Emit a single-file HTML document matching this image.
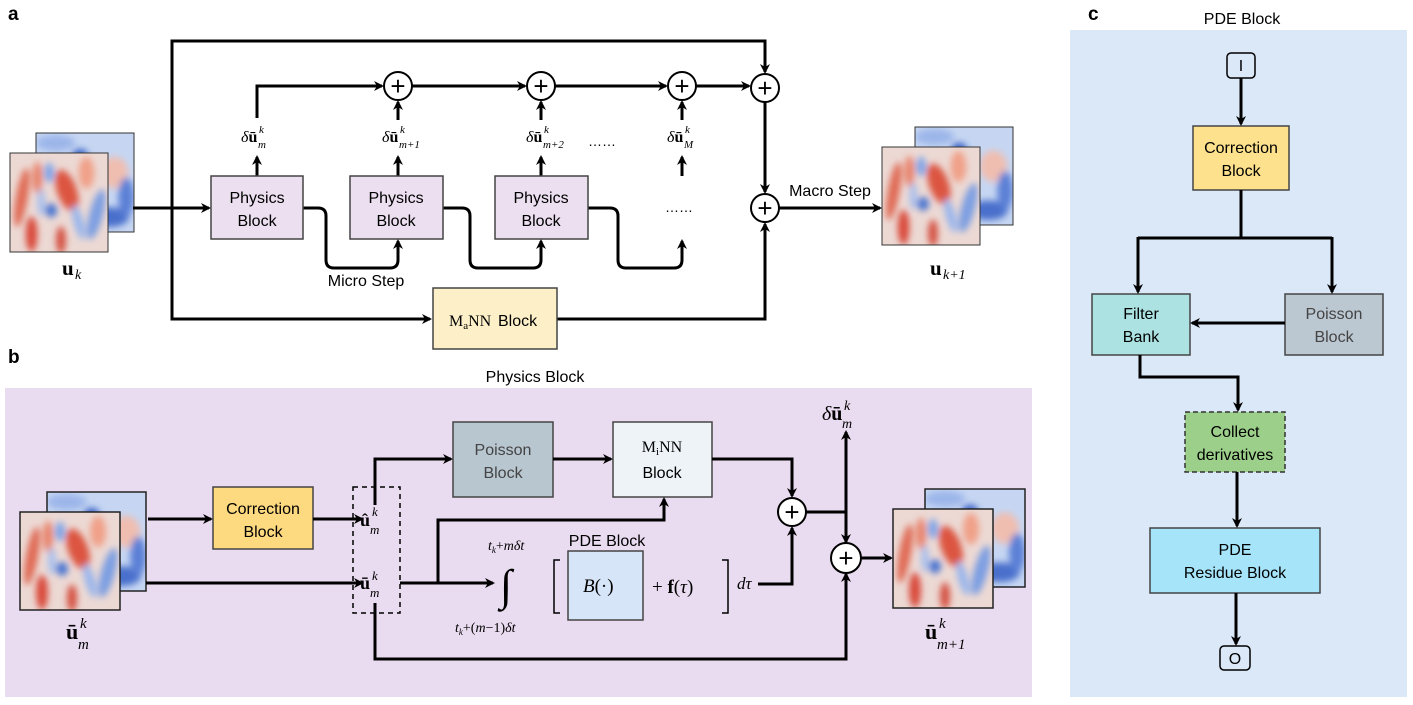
<!DOCTYPE html>
<html><head><meta charset="utf-8"><style>
html,body{margin:0;padding:0;background:#fff;}
svg{display:block;}
text{font-family:"Liberation Sans",sans-serif;}
text.m,.m text,.m tspan{font-family:"Liberation Serif",serif;}
</style></head><body>
<svg width="1413" height="705" viewBox="0 0 1413 705" xmlns="http://www.w3.org/2000/svg">
<defs>
<marker id="ar" markerWidth="10" markerHeight="10" refX="8" refY="5" orient="auto" markerUnits="userSpaceOnUse">
<path d="M0,0 L10,5 L0,10 L3,5 Z" fill="#000"/></marker>
<filter id="bl" x="-20%" y="-20%" width="140%" height="140%"><feGaussianBlur stdDeviation="3.5"/></filter>
<clipPath id="cp"><rect x="0" y="0" width="100" height="100"/></clipPath>
<g id="hmA" clip-path="url(#cp)">
<rect width="100" height="100" fill="#ecd9d4"/>
<g filter="url(#bl)">
<ellipse cx="12" cy="45" rx="6" ry="30" fill="#e06a55" transform="rotate(10 12 45)"/>
<ellipse cx="28" cy="25" rx="5" ry="16" fill="#e8826a"/>
<ellipse cx="40" cy="20" rx="5" ry="10" fill="#7ea4e8"/>
<ellipse cx="58" cy="38" rx="10" ry="22" fill="#dc5540" transform="rotate(-20 58 38)"/>
<ellipse cx="42" cy="58" rx="6" ry="7" fill="#4a74d0"/>
<ellipse cx="78" cy="20" rx="8" ry="16" fill="#f0a088"/>
<ellipse cx="88" cy="62" rx="7" ry="26" fill="#7d9fe2" transform="rotate(15 88 62)"/>
<ellipse cx="22" cy="82" rx="6" ry="18" fill="#d94a3a"/>
<ellipse cx="52" cy="88" rx="5" ry="14" fill="#d45040"/>
<ellipse cx="70" cy="70" rx="5" ry="18" fill="#9ab6ec" transform="rotate(-15 70 70)"/>
<ellipse cx="32" cy="50" rx="4" ry="14" fill="#a8c0ee"/>
</g></g>
<g id="hmB" clip-path="url(#cp)">
<rect width="100" height="100" fill="#c6d6f2"/>
<g filter="url(#bl)">
<ellipse cx="45" cy="22" rx="8" ry="6" fill="#3a64c8"/>
<ellipse cx="80" cy="40" rx="14" ry="16" fill="#f0beb0"/>
<ellipse cx="75" cy="85" rx="20" ry="10" fill="#4a70cc"/>
<ellipse cx="92" cy="65" rx="8" ry="20" fill="#5b80d6"/>
<ellipse cx="55" cy="55" rx="8" ry="14" fill="#e8c8c0"/>
<ellipse cx="20" cy="10" rx="20" ry="8" fill="#9cb6ea"/>
</g></g>
</defs>

<!-- Panel a -->
<text x="8" y="20" font-size="19" font-weight="bold">a</text>
<use href="#hmB" transform="translate(36,133) scale(0.98,0.99)"/>
<rect x="36" y="133" width="98" height="99" fill="none" stroke="#333" stroke-width="1"/>
<use href="#hmA" transform="translate(10,153) scale(0.98,0.99)"/>
<rect x="10" y="153" width="98" height="99" fill="none" stroke="#333" stroke-width="1"/>
<text x="62" y="275" class="m" font-size="21" font-weight="bold">u</text><text x="75" y="279" class="m" font-size="14" font-style="italic">k</text>
<use href="#hmB" transform="translate(915,127) scale(0.98,0.98)"/>
<rect x="915" y="127" width="98" height="98" fill="none" stroke="#333" stroke-width="1"/>
<use href="#hmA" transform="translate(882,147) scale(0.98,0.98)"/>
<rect x="882" y="147" width="98" height="98" fill="none" stroke="#333" stroke-width="1"/>
<text x="930" y="275" class="m" font-size="21" font-weight="bold">u</text><text x="943" y="279" class="m" font-size="14" font-style="italic">k+1</text>

<g stroke="#000" stroke-width="3" fill="none">
<line x1="133" y1="208" x2="209" y2="208" marker-end="url(#ar)"/>
<polyline points="172,208 172,41 765,41 765,72" marker-end="url(#ar)"/>
<polyline points="172,208 172,319 430,319" marker-end="url(#ar)"/>
<polyline points="557,319 765,319 765,224" marker-end="url(#ar)"/>
<polyline points="257,118 257,86 382,86" marker-end="url(#ar)"/>
<line x1="412" y1="86" x2="525" y2="86" marker-end="url(#ar)"/>
<line x1="555" y1="86" x2="666" y2="86" marker-end="url(#ar)"/>
<line x1="696" y1="86" x2="749" y2="86" marker-end="url(#ar)"/>
<line x1="765" y1="102" x2="765" y2="192" marker-end="url(#ar)"/>
<line x1="779" y1="208" x2="880" y2="208" marker-end="url(#ar)"/>
<line x1="257" y1="176" x2="257" y2="157" marker-end="url(#ar)"/>
<line x1="398" y1="176" x2="398" y2="157" marker-end="url(#ar)"/>
<line x1="541" y1="176" x2="541" y2="157" marker-end="url(#ar)"/>
<line x1="682" y1="176" x2="682" y2="157" marker-end="url(#ar)"/>
<line x1="398" y1="120" x2="398" y2="102" marker-end="url(#ar)"/>
<line x1="541" y1="120" x2="541" y2="102" marker-end="url(#ar)"/>
<line x1="682" y1="120" x2="682" y2="102" marker-end="url(#ar)"/>
<path d="M303,208 H318 Q326,208 326,216 V260 Q326,268 334,268 H390 Q398,268 398,260 V241" marker-end="url(#ar)"/>
<path d="M443,208 H462 Q470,208 470,216 V260 Q470,268 478,268 H533 Q541,268 541,260 V241" marker-end="url(#ar)"/>
<path d="M588,208 H610 Q618,208 618,216 V260 Q618,268 626,268 H674 Q682,268 682,260 V241" marker-end="url(#ar)"/>
</g>
<g stroke="#000" stroke-width="2" fill="#fff">
<circle cx="398" cy="86" r="14"/><circle cx="541" cy="86" r="14"/><circle cx="682" cy="86" r="14"/><circle cx="765" cy="88" r="14"/><circle cx="765" cy="208" r="14"/>
</g>
<g font-size="26" text-anchor="middle"><text x="398" y="95">+</text><text x="541" y="95">+</text><text x="682" y="95">+</text><text x="765" y="97">+</text><text x="765" y="217">+</text></g>
<g stroke="#444" stroke-width="1.5">
<rect x="211" y="176" width="92" height="63" fill="#ebdff0"/>
<rect x="350" y="176" width="93" height="63" fill="#ebdff0"/>
<rect x="495" y="176" width="93" height="63" fill="#ebdff0"/>
<rect x="433" y="288" width="124" height="61" fill="#fdf0c8"/>
</g>
<g font-size="16" text-anchor="middle">
<text x="257" y="203">Physics</text><text x="257" y="226">Block</text>
<text x="396" y="203">Physics</text><text x="396" y="226">Block</text>
<text x="541" y="203">Physics</text><text x="541" y="226">Block</text>
<text x="366" y="286">Micro Step</text>
<text x="830" y="196">Macro Step</text>
</g>
<text x="449" y="326" class="m" font-size="16">M<tspan font-size="11" dy="3">a</tspan><tspan dy="-3">NN</tspan></text>
<text x="498" y="326" font-size="16">Block</text>
<g class="m" font-size="16">
<text x="241" y="142"><tspan font-style="italic">δ</tspan><tspan font-weight="bold">ū</tspan></text><text x="258" y="148" font-size="11" font-style="italic">m</text><text x="259" y="133" font-size="11" font-style="italic">k</text>
<text x="382" y="142"><tspan font-style="italic">δ</tspan><tspan font-weight="bold">ū</tspan></text><text x="399" y="148" font-size="11" font-style="italic">m+1</text><text x="400" y="133" font-size="11" font-style="italic">k</text>
<text x="526" y="142"><tspan font-style="italic">δ</tspan><tspan font-weight="bold">ū</tspan></text><text x="543" y="148" font-size="11" font-style="italic">m+2</text><text x="544" y="133" font-size="11" font-style="italic">k</text>
<text x="667" y="142"><tspan font-style="italic">δ</tspan><tspan font-weight="bold">ū</tspan></text><text x="684" y="148" font-size="11" font-style="italic">M</text><text x="685" y="133" font-size="11" font-style="italic">k</text>
</g>
<text x="588" y="146" font-size="14">……</text>
<text x="665" y="212" font-size="14">……</text>

<!-- Panel b -->
<text x="8" y="363" font-size="19" font-weight="bold">b</text>
<text x="535" y="382" font-size="16" text-anchor="middle">Physics Block</text>
<rect x="5" y="388" width="1027" height="309" fill="#eadcf0"/>
<use href="#hmB" transform="translate(47,492) scale(0.99,0.99)"/>
<rect x="47" y="492" width="99" height="99" fill="none" stroke="#222" stroke-width="1.5"/>
<use href="#hmA" transform="translate(20,512) scale(1.0,0.98)"/>
<rect x="20" y="512" width="100" height="98" fill="none" stroke="#222" stroke-width="1.5"/>
<use href="#hmB" transform="translate(925,489) scale(1.0,0.98)"/>
<rect x="925" y="489" width="100" height="98" fill="none" stroke="#222" stroke-width="1.5"/>
<use href="#hmA" transform="translate(893,509) scale(1.0,0.99)"/>
<rect x="893" y="509" width="100" height="99" fill="none" stroke="#222" stroke-width="1.5"/>

<g stroke="#444" stroke-width="1.5">
<rect x="213" y="487" width="100" height="62" fill="#fdd97f"/>
<rect x="453" y="422" width="100" height="75" fill="#b8c6d0"/>
<rect x="613" y="422" width="99" height="75" fill="#eef3f7"/>
<rect x="568" y="551" width="75" height="69" fill="#d6e5f7"/>
</g>
<rect x="353" y="487" width="47" height="126" fill="none" stroke="#000" stroke-width="1.5" stroke-dasharray="5,4"/>
<g stroke="#000" stroke-width="3" fill="none">
<line x1="148" y1="519" x2="211" y2="519" marker-end="url(#ar)"/>
<line x1="313" y1="519" x2="362" y2="519" marker-end="url(#ar)"/>
<line x1="146" y1="583" x2="362" y2="583" marker-end="url(#ar)"/>
<polyline points="375,505 375,459 451,459" marker-end="url(#ar)"/>
<line x1="553" y1="459" x2="611" y2="459" marker-end="url(#ar)"/>
<polyline points="400,583 438,583 438,520 664,520 664,499" marker-end="url(#ar)"/>
<line x1="438" y1="583" x2="493" y2="583" marker-end="url(#ar)"/>
<polyline points="758,584 792,584 792,528" marker-end="url(#ar)"/>
<polyline points="712,459 792,459 792,496" marker-end="url(#ar)"/>
<polyline points="806,512 846,512"/>
<line x1="846" y1="544" x2="846" y2="432" marker-end="url(#ar)"/>
<line x1="846" y1="512" x2="846" y2="542" marker-end="url(#ar)"/>
<line x1="860" y1="558" x2="891" y2="558" marker-end="url(#ar)"/>
<polyline points="375,603 375,659 846,659 846,574" marker-end="url(#ar)"/>
</g>
<g stroke="#000" stroke-width="2" fill="#fff"><circle cx="792" cy="512" r="14"/><circle cx="846" cy="558" r="15"/></g>
<g font-size="26" text-anchor="middle"><text x="792" y="521">+</text><text x="846" y="567">+</text></g>
<g fill="none" stroke="#000" stroke-width="1.5">
<polyline points="560,560 554,560 554,613 560,613"/><polyline points="722,560 728,560 728,613 722,613"/>
</g>
<g font-size="16" text-anchor="middle">
<text x="263" y="514">Correction</text><text x="263" y="537">Block</text>
<text x="503" y="455" fill="#444">Poisson</text><text x="503" y="478" fill="#444">Block</text>
<text x="662" y="478">Block</text>
<text x="607" y="546">PDE Block</text>
</g>
<text x="662" y="452" class="m" font-size="16" text-anchor="middle">M<tspan font-size="11" dy="3">i</tspan><tspan dy="-3">NN</tspan></text>
<g class="m">
<text x="360" y="526" font-size="18" font-weight="bold">û</text><text x="370" y="534" font-size="13" font-style="italic">m</text><text x="372" y="516" font-size="13" font-style="italic">k</text>
<text x="360" y="589" font-size="18" font-weight="bold">ū</text><text x="370" y="597" font-size="13" font-style="italic">m</text><text x="372" y="580" font-size="13" font-style="italic">k</text>
<text x="66" y="639" font-size="22" font-weight="bold">ū</text><text x="78" y="649" font-size="15" font-style="italic">m</text><text x="80" y="628" font-size="15" font-style="italic">k</text>
<text x="925" y="639" font-size="22" font-weight="bold">ū</text><text x="937" y="649" font-size="15" font-style="italic">m+1</text><text x="939" y="628" font-size="15" font-style="italic">k</text>
<text x="822" y="420" font-size="20"><tspan font-style="italic">δ</tspan><tspan font-weight="bold">ū</tspan></text><text x="842" y="428" font-size="14" font-style="italic">m</text><text x="844" y="410" font-size="14" font-style="italic">k</text>
<text x="488" y="550" font-size="14" font-style="italic">t<tspan font-size="9" dy="3">k</tspan><tspan dy="-3" font-style="normal">+</tspan>mδt</text>
<text x="455" y="632" font-size="14" font-style="italic">t<tspan font-size="9" dy="3">k</tspan><tspan dy="-3" font-style="normal">+(</tspan>m<tspan font-style="normal">−1)</tspan>δt</text>
<text x="500" y="600" font-size="44" font-style="italic">∫</text>
<text x="583" y="592" font-size="19"><tspan font-style="italic">B</tspan>(·)</text>
<text x="652" y="593" font-size="19">+ <tspan font-weight="bold">f</tspan>(<tspan font-style="italic">τ</tspan>)</text>
<text x="737" y="589" font-size="17" font-style="italic">dτ</text>
</g>

<!-- Panel c -->
<text x="1088" y="20" font-size="19" font-weight="bold">c</text>
<text x="1242" y="24" font-size="16" text-anchor="middle">PDE Block</text>
<rect x="1070" y="30" width="337" height="667" fill="#dae8f8"/>
<g stroke="#444" stroke-width="1.5">
<rect x="1193" y="126" width="96" height="64" fill="#fde18c"/>
<rect x="1092" y="294" width="98" height="61" fill="#ace2e2"/>
<rect x="1285" y="294" width="98" height="61" fill="#bbc7d1"/>
<rect x="1150" y="528" width="170" height="65" fill="#a6e4fa"/>
</g>
<rect x="1185" y="412" width="100" height="60" fill="#9cd08a" stroke="#333" stroke-width="1.5" stroke-dasharray="5,3"/>
<rect x="1227" y="53" width="28" height="25" rx="4" fill="none" stroke="#000" stroke-width="1.5"/>
<rect x="1220" y="646" width="30" height="24" rx="4" fill="none" stroke="#000" stroke-width="1.5"/>
<g stroke="#000" stroke-width="3" fill="none">
<line x1="1241" y1="78" x2="1241" y2="124" marker-end="url(#ar)"/>
<polyline points="1241,190 1241,238"/>
<polyline points="1138,238 1332,238"/>
<line x1="1138" y1="237" x2="1138" y2="292" marker-end="url(#ar)"/>
<line x1="1332" y1="237" x2="1332" y2="292" marker-end="url(#ar)"/>
<line x1="1285" y1="323" x2="1192" y2="323" marker-end="url(#ar)"/>
<polyline points="1140,355 1140,377 1238,377 1238,410" marker-end="url(#ar)"/>
<line x1="1237" y1="472" x2="1237" y2="526" marker-end="url(#ar)"/>
<line x1="1236" y1="593" x2="1236" y2="644" marker-end="url(#ar)"/>
</g>
<g font-size="16" text-anchor="middle">
<text x="1241" y="71">I</text>
<text x="1241" y="153">Correction</text><text x="1241" y="176">Block</text>
<text x="1141" y="319">Filter</text><text x="1141" y="342">Bank</text>
<text x="1334" y="319" fill="#444">Poisson</text><text x="1334" y="342" fill="#444">Block</text>
<text x="1235" y="437">Collect</text><text x="1235" y="460">derivatives</text>
<text x="1235" y="555">PDE</text><text x="1235" y="578">Residue Block</text>
<text x="1235" y="664">O</text>
</g>
</svg>
</body></html>
